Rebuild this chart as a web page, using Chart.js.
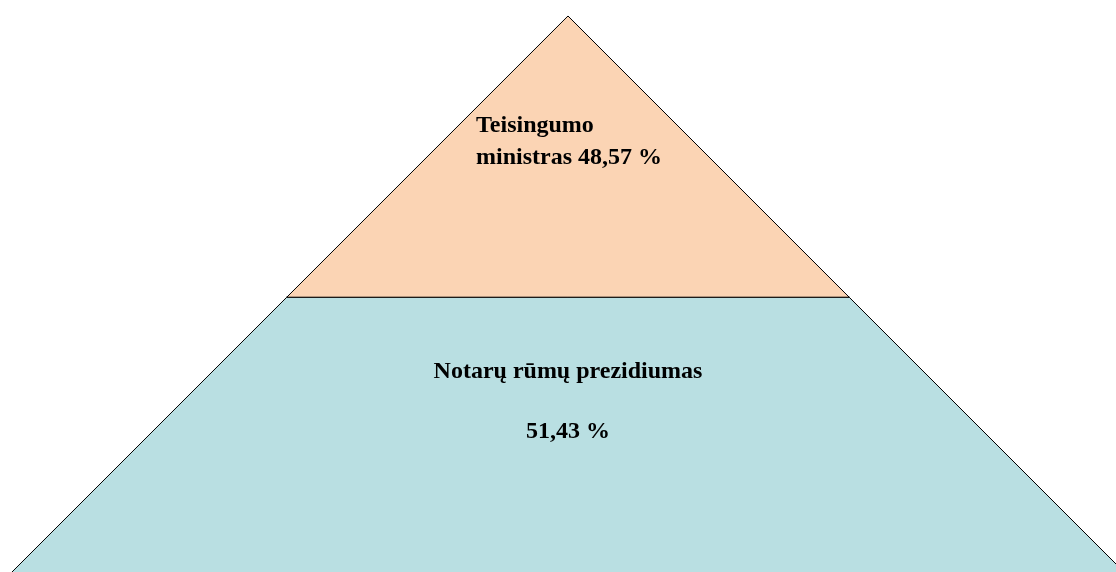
<!DOCTYPE html>
<html>
<head>
<meta charset="utf-8">
<script src="https://cdn.jsdelivr.net/npm/chart.js@4.4.0/dist/chart.umd.min.js"></script>
<style>
  html, body { margin: 0; padding: 0; background: #fff; }
  #pyramid { display: block; }
</style>
</head>
<body>
<canvas id="pyramid" width="1116" height="572"></canvas>
<script>
// pyramid levels from apex down
const levels = ['Teisingumo ministras', 'Notarų rūmų prezidiumas'];
const shares = [48.57, 51.43];
const fills = ['#FBD4B4', '#B9DFE2'];

const fmt = v => v.toFixed(2).replace('.', ',') + ' %';

// each level is a trapezoid; depth runs 0 (apex) .. 100 (base), half width = depth
let depth = 0;
const datasets = levels.map((name, i) => {
  const d0 = depth;
  const d1 = depth + shares[i];
  depth = d1;
  return {
    label: name,
    data: [
      {x: -d0, y: d0}, {x: d0, y: d0},
      {x: d1, y: d1}, {x: -d1, y: d1},
      {x: -d0, y: d0}
    ],
    backgroundColor: fills[i],
    borderColor: '#000',
    borderWidth: 1,
    fill: 'shape',
    tension: 0,
    pointRadius: 0
  };
});

// heavier line where one level meets the next
const split = shares[0];
datasets.push({
  label: 'split',
  data: [{x: -split, y: split}, {x: split, y: split}],
  borderColor: '#222',
  borderWidth: 2,
  fill: false,
  pointRadius: 0
});

const labelPlugin = {
  id: 'levelLabels',
  afterDatasetsDraw(chart) {
    const ctx = chart.ctx;
    ctx.save();
    ctx.fillStyle = '#000';
    ctx.font = 'bold 24px "Liberation Serif", "Times New Roman", serif';
    ctx.textBaseline = 'alphabetic';
    // top level
    ctx.textAlign = 'left';
    ctx.fillText('Teisingumo', 476, 132);
    ctx.fillText('ministras ' + fmt(shares[0]), 476, 164);
    // bottom level
    ctx.textAlign = 'center';
    ctx.fillText(levels[1], 568, 378);
    ctx.fillText(fmt(shares[1]), 568, 438);
    ctx.restore();
  }
};

const pyramid = new Chart(document.getElementById('pyramid'), {
  type: 'line',
  data: { datasets: datasets },
  options: {
    responsive: false,
    animation: false,
    devicePixelRatio: 1,
    layout: { padding: 0 },
    scales: {
      x: { type: 'linear', display: false, min: -98.1, max: 94.65 },
      y: { type: 'linear', display: false, reverse: true, min: -2.76, max: 96.03 }
    },
    plugins: {
      legend: { display: false },
      tooltip: { enabled: false }
    }
  },
  plugins: [labelPlugin]
});
</script>
</body>
</html>
